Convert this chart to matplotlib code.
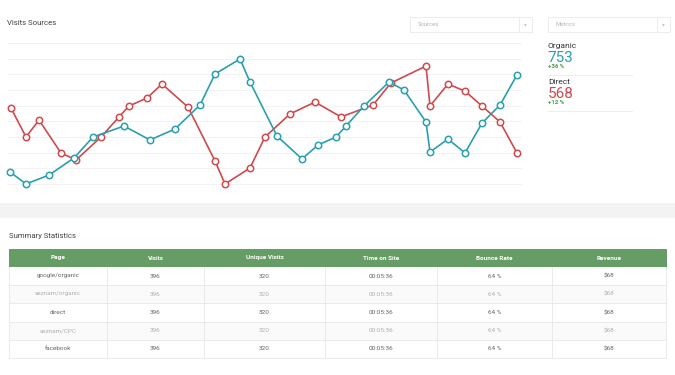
import matplotlib
matplotlib.use("Agg")
import matplotlib.pyplot as plt
from matplotlib.patches import Rectangle

plt.rcParams['font.family'] = ['Roboto', 'DejaVu Sans']

# ---------------- data ----------------
organic_x = [0, 16, 39, 64, 83, 114, 140, 165, 190, 205, 230, 240, 267, 292, 308,
             326, 336, 354, 379, 394, 416, 420, 438, 455, 472, 490, 507]
organic_y = [0.77, 0.0, 0.57, 1.66, 3.0, 3.70, 2.81, 3.51, 5.04, 7.02, 7.98, 6.51, 3.06, 1.60, 2.49,
             3.0, 3.70, 4.98, 6.51, 6.0, 3.96, 2.04, 2.87, 1.98, 3.89, 5.04, 6.96]
direct_x = [1, 16, 29, 51, 66, 91, 109, 119, 137, 152, 178, 205, 215, 240, 255,
            280, 305, 331, 363, 381, 416, 420, 438, 455, 472, 490, 507]
direct_y = [4.85, 3.0, 4.08, 1.98, 1.53, 3.0, 4.28, 4.98, 5.49, 6.38, 4.91, 1.47, 0.0, 1.02, 3.0,
            4.47, 5.23, 4.28, 5.04, 6.45, 7.53, 4.98, 6.38, 5.93, 4.98, 3.96, 1.98]
grid_levels = list(range(10))

legend_names = ["Organic", "Direct"]
legend_values = ["753", "568"]
legend_changes = ["+36 %", "+12 %"]

dropdowns = ["Sources", "Metrics"]

table_header = ["Page", "Visits", "Unique Visits", "Time on Site", "Bounce Rate", "Revenue"]
table_pages = ["google/organic", "seznam/organic", "direct", "seznam/CPC", "facebook"]
table_visits = ["396", "396", "396", "396", "396"]
table_unique = ["320", "320", "320", "320", "320"]
table_time = ["00:05:36", "00:05:36", "00:05:36", "00:05:36", "00:05:36"]
table_bounce = ["64 %", "64 %", "64 %", "64 %", "64 %"]
table_revenue = ["$68", "$68", "$68", "$68", "$68"]

TEAL = "#2a9fb0"
RED = "#cf4a4d"
GREEN = "#4f9a45"

W, H = 675, 375
fig = plt.figure(figsize=(W / 100, H / 100), dpi=100)
fig.patch.set_facecolor("white")

# ---------------- overlay (pixel coordinates) ----------------
ov = fig.add_axes([0, 0, 1, 1])
ov.set_xlim(0, W)
ov.set_ylim(H, 0)
ov.axis("off")

ov.text(7, 23, "Visits Sources", fontsize=5.6, color="#444444", va="center", ha="left")

# dropdowns
for i, name in enumerate(dropdowns):
    x0 = 410 + i * 138
    ov.add_patch(Rectangle((x0, 17), 122, 15, facecolor="white", edgecolor="#ececec", lw=0.7))
    ov.plot([x0 + 109, x0 + 109], [18, 31], color="#ececec", lw=0.7)
    ov.text(x0 + 8, 24.5, name, fontsize=4.2, color="#b5b5b5", va="center", ha="left")
    ov.text(x0 + 115.5, 24.5, "▾", fontsize=4, color="#c5c5c5", va="center", ha="center",
            family=["DejaVu Sans"])

# right side legend
colors = [TEAL, RED]
for i in range(2):
    y0 = 46 + i * 36
    ov.text(548, y0, legend_names[i], fontsize=6, color="#333333", va="center", ha="left")
    ov.text(547.5, y0 + 11.5, legend_values[i], fontsize=11, color=colors[i], va="center", ha="left")
    ov.text(548.5, y0 + 21, legend_changes[i], fontsize=4.3, color=GREEN, va="center", ha="left",
            fontweight="bold")
    ov.plot([548, 632], [y0 + 29, y0 + 29], color="#eeeeee", lw=0.7)

# gray band
ov.add_patch(Rectangle((0, 203), W, 15, facecolor="#f3f3f3", edgecolor="none"))

ov.text(9, 236, "Summary Statistics", fontsize=5.6, color="#444444", va="center", ha="left")

# table
col_edges = [9, 107, 204, 325, 437, 552, 666]
row_edges = [267, 285, 303, 322, 340, 358]
hdr_top = 249
ov.add_patch(Rectangle((col_edges[0], hdr_top), col_edges[-1] - col_edges[0], row_edges[0] - hdr_top,
                       facecolor="#669c66", edgecolor="#5b8f5b", lw=0.6))
for c, h in enumerate(table_header):
    cx = (col_edges[c] + col_edges[c + 1]) / 2
    ov.text(cx, (hdr_top + row_edges[0]) / 2, h, fontsize=4.6, color="white",
            fontweight="bold", va="center", ha="center")

columns = [table_pages, table_visits, table_unique, table_time, table_bounce, table_revenue]
for r in range(len(table_pages)):
    y0, y1 = row_edges[r], row_edges[r + 1]
    light = (r % 2 == 1)
    ov.add_patch(Rectangle((col_edges[0], y0), col_edges[-1] - col_edges[0], y1 - y0,
                           facecolor="#fafafa" if light else "white", edgecolor="none"))
    ov.plot([col_edges[0], col_edges[-1]], [y1, y1], color="#e8e8e8", lw=0.6)
    for c, col in enumerate(columns):
        cx = (col_edges[c] + col_edges[c + 1]) / 2
        ov.text(cx, (y0 + y1) / 2, col[r], fontsize=4.6,
                color="#b0b0b0" if light else "#666666", va="center", ha="center")
for xe in col_edges:
    ov.plot([xe, xe], [row_edges[0], row_edges[-1]], color="#e8e8e8", lw=0.6)

# ---------------- line chart ----------------
# data units: y 0 -> px 184, 9 -> px 43 ; x px = x + 10
ypx_per_unit = (184 - 43) / 9.0
y_lo, y_hi = -0.6, 9.4
px_bottom = 184 + (0 - y_lo) * ypx_per_unit
px_top = 43 - (y_hi - 9) * ypx_per_unit
x_lo, x_hi = -3, 512
ax = fig.add_axes([(x_lo + 10) / W, 1 - px_bottom / H, (x_hi - x_lo) / W, (px_bottom - px_top) / H])
ax.set_xlim(x_lo, x_hi)
ax.set_ylim(y_lo, y_hi)
ax.patch.set_alpha(0)
for s in ax.spines.values():
    s.set_visible(False)
ax.set_xticks([])
ax.set_yticks([])
for g in grid_levels:
    ax.axhline(g, color="#f3f3f3", lw=0.7, zorder=0)

ax.plot(direct_x, direct_y, color=RED, lw=1.2, marker="o", markersize=4.6,
        markerfacecolor="white", markeredgecolor=RED, markeredgewidth=1.1, clip_on=False, zorder=3)
ax.plot(organic_x, organic_y, color=TEAL, lw=1.2, marker="o", markersize=4.6,
        markerfacecolor="white", markeredgecolor=TEAL, markeredgewidth=1.1, clip_on=False, zorder=4)

fig.savefig("out.png", dpi=100)
